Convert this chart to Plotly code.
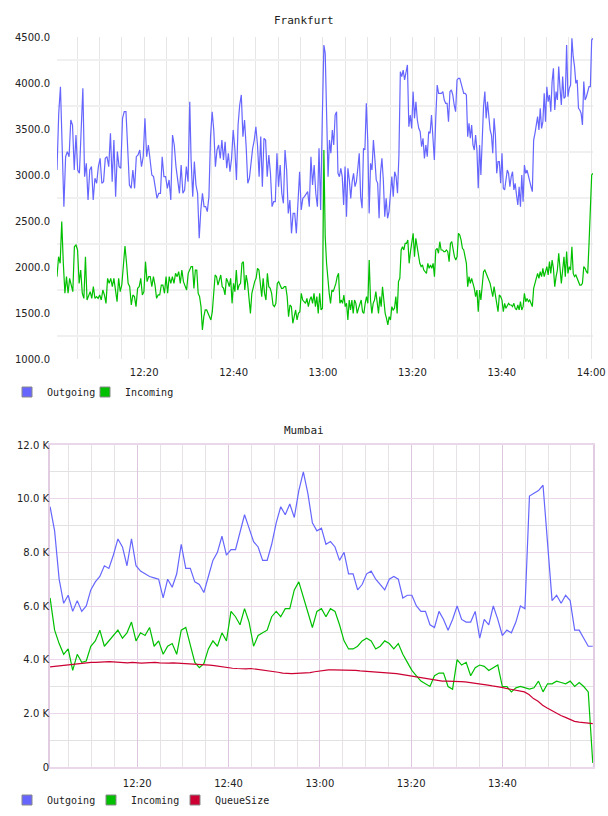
import numpy as np
import pandas as pd
import plotly.graph_objects as go

# ---------------- data ----------------
base = pd.Timestamp("2024-01-01 12:00:00")

# Frankfurt: four half-hour segments (minutes after 12:00)
fra_seg_start = [0.5, 30.5, 60.5, 90.6]
fra_seg_end = [30.2, 60.2, 90.3, 120.4]

fra_out_1 = [3054,3670,3960,3308,2656,3199,3254,3199,3598,3543,3054,3435,3054,3018,3525,3942,2982,3127,2728,3054,3091,2728,2964,2910,3091,3181,2910,2928,3181,3199,3091,3453,2928,3380,2765,3254,3091,3073,3616,3688,3688,3344,2891,2855,3054,2855,3199,3217,3272,3091,3199,3616,3199,3326,3181,3000,2982,2873,2746,2801,2801,3199,2982,2982,2855,2946,2728,3435,3326,3091,2964,2801,3109,2801,2837,3091,2928,3797]
fra_out_2 = [3163,2765,3145,2891,2801,2313,2620,2801,2656,2656,2602,2765,3417,3688,3489,3091,3272,3326,3181,3380,3163,3362,3073,3236,3036,3181,3489,3290,2946,3543,3761,3870,3417,3598,3308,2910,2964,3163,3290,3380,3525,3326,2982,3417,2873,3399,3380,2982,3217,3018,2656,2710,2710,3236,2873,3109,2801,2692,3272,3054,2583,2728,2366,2583,2583,2366,2692,3036,2620,2746,2765,2801,2819,2656,3199,2891,3109,2801,2656,3290,2620,3598,4413]
fra_out_3 = [4322,3779,2982,3380,3236,3489,3326,3652,3688,3018,2982,3073,2982,2674,3091,2547,3073,2946,2746,2928,3018,2873,2928,3073,3236,2765,2638,3290,3272,3779,3380,2583,3127,3054,3380,3181,2946,2910,2529,3018,3181,2946,2547,2746,2529,2602,2855,2982,2765,3036,2982,2801,3217,4123,4069,4141,4033,4123,4196,3525,3652,3507,3906,3616,3797,3598,3507,3471,3308,3399,3181,3326,3199,3471,3453,3652,3453,3163,3616,3978,3888,3888,3888,3906,3815,3779,3779,3580,3906,3924,3870,3761,3688,4033,4051]
fra_out_4 = [4051,3996,3942,3888,3888,3870,3417,3562,3399,3543,3326,3272,3435,3272,2855,3326,3000,3507,3743,3906,3616,3797,3670,3489,3435,3236,3616,3435,3018,3145,3145,2910,3236,2855,2837,2964,3054,3018,2873,2982,3036,2837,2910,2783,2674,2873,2656,3000,2710,3109,3018,3054,2982,2928,2873,2819,3380,3453,3525,3634,3489,3725,3507,3580,3888,3580,3960,3797,3870,3688,4015,4159,3707,3906,3815,4178,3942,3761,4069,3833,3851,4413,3851,3942,3978,4486,4286,4178,3996,4033,3725,3707,3670,3543,4015,3815,3851,3924,3960,3960,4467,4486]

fra_in_1 = [1895,2112,2040,2493,2040,1714,1895,1714,1877,1786,1732,2221,2239,2185,1822,1967,1714,1659,2112,1641,1678,1732,1659,1786,1659,1678,1659,1696,1641,1750,1696,1605,1877,1822,1877,1786,1877,1714,1623,1877,1732,1804,2040,2228,2040,1822,1786,1587,1696,1678,1569,1768,1786,1877,1696,1732,2058,1841,1895,1895,1786,1895,1804,1659,1696,1696,1804,1804,1714,1895,1714,1895,1822,1895,1822,1931,1895,1949,1822,1967,1841,1786,1750,1931,1985]
fra_in_2 = [2004,2004,1768,1967,1967,1714,1678,1569,1315,1460,1533,1533,1496,1460,1424,1514,1714,1913,1895,1804,1859,1913,1786,1768,1696,1877,1841,1786,1877,1605,1822,1732,1967,1750,1804,1822,2040,2058,1750,1913,1822,1659,1496,1714,1786,1841,1877,1985,1967,1822,1678,1877,1714,1641,1931,1786,1768,1714,1587,1569,1605,1822,1841,1804,1768,1768,1786,1786,1678,1460,1587,1569,1388,1460,1533,1424,1496,1514,1714,1641,1623,1605,1659,1569,1641,1678,1605,1714,1569,1678,1496,1714,1533,1551,3272]
fra_in_3 = [2330,2040,1822,1714,1605,1750,1732,1768,1822,1895,1931,1605,1641,1605,1696,1569,1605,1424,1641,1533,1641,1496,1641,1605,1496,1551,1605,1641,1514,1496,1605,1678,1605,2076,1641,1496,1605,1641,1732,1605,1496,1678,1569,1786,1605,1496,1442,1370,1460,1424,1569,1533,1551,1678,1496,1841,1877,2185,2221,2185,2257,2257,2293,2040,2167,2257,2366,2112,2312,2221,2112,2040,2004,2022,1967,1949,1931,2040,1985,2022,1985,2040,1895,2185,2203,2149,2275,2185,2185,2167,2167,2185,2167,2058,2257,2275,2185,2112,2076,2112,2366]
fra_in_4 = [2348,2293,2203,2185,2112,2040,1786,1895,1822,1877,1822,1768,1678,1750,1514,1750,1641,1822,1949,1967,1931,1895,1877,1822,1750,1678,1786,1714,1605,1514,1696,1678,1641,1514,1605,1551,1587,1605,1587,1587,1569,1605,1551,1533,1587,1533,1623,1533,1569,1714,1623,1659,1623,1641,1605,1569,1768,1822,1877,1931,1877,1949,1895,1985,1895,1967,2004,1913,2058,1931,2076,1985,1786,1895,1967,2149,2004,1822,1967,2112,1895,2167,1931,2004,1967,2221,1931,1895,1913,1877,1859,1804,1804,1822,2004,1985,1949,1931,2257,2656,3000,3018]

# Mumbai (minutes after 12:00 span)
mum_start, mum_end = 0.9, 119.8
mum_out = [9700,8800,7000,6100,6400,5800,6200,5800,6000,6600,
           6900,7100,7500,7400,7900,8500,8200,7500,8500,7500,
           7300,7200,7100,7050,7000,6300,7000,6700,7200,8300,
           7400,7400,6900,6800,6500,7100,7700,8000,8600,7900,
           8100,8100,8700,9400,8900,8400,8200,7700,7700,8300,
           9100,9700,9400,9800,9300,10300,11000,10200,9100,8800,
           8900,8300,8400,8200,7700,8000,7200,7200,6600,6800,
           7200,7300,7000,6800,6600,7000,7100,7000,6300,6400,
           6400,6000,5800,5800,5300,5200,5800,5500,5100,5500,
           6000,5500,5400,5400,5800,4800,5500,5300,6000,5500,
           4900,5100,5000,5400,6000,5900,10100,10200,10300,10500,
           8400,6200,6400,6100,6400,6200,5100,5100,4800,4500,4500]
mum_in = [6300,5100,4600,4200,4400,3600,4200,3900,3950,4500,
          4700,5100,4500,4700,4900,5100,4800,5000,5400,4700,
          5000,4900,5200,4500,4700,4200,4500,4600,4200,5100,
          5200,4500,3900,3700,3850,4400,4700,4500,5000,4700,
          5800,5600,5300,5900,5400,4500,4900,5000,5100,5600,
          5800,5600,5900,5900,6600,6900,6300,5800,5200,5800,
          5900,5600,5900,5800,5300,4700,4400,4400,4500,4700,
          4800,4700,4400,4500,4700,4600,4400,4600,4200,3900,
          3600,3400,3200,3100,3000,3400,3500,3500,3000,2900,
          4000,3800,3900,3400,3700,3800,3750,3600,3700,3800,
          3000,3000,2800,2950,3000,2950,2900,2950,3200,2800,
          3100,3100,3200,3150,3100,3200,3000,3150,3000,2800,150]
mum_queue = [3730,3750,3780,3800,3820,3830,3850,3870,3880,3900,3900,3920,
             3920,3930,3920,3900,3900,3880,3900,3880,3870,3880,3900,3900,3880,3870,3870,3880,3870,3860,3860,3850,3850,3830,3820,3800,
             3780,3750,3720,3700,3680,3670,3660,3660,3670,3650,3630,
             3600,3580,3550,3530,3500,3480,3480,3490,3500,3500,3520,
             3550,3580,3600,3620,
             3620,3620,3610,3600,3600,3600,3580,3570,3560,3550,3530,3520,3520,3500,3480,
             3450,3420,3400,3370,3330,3300,3280,3250,3220,3200,3200,3200,3190,3180,3170,
             3150,3120,3100,3080,3050,3020,3000,2970,2930,2900,2870,2830,2800,
             2700,2550,2450,2300,2200,2100,2000,1920,1850,1780,1700,1670,1660,1650,1620]

fra_ticks = [1000, 1500, 2000, 2500, 3000, 3500, 4000, 4500]
mum_tickvals = [0, 2000, 4000, 6000, 8000, 10000, 12000]
mum_ticktext = ["0", "2.0 K", "4.0 K", "6.0 K", "8.0 K", "10.0 K", "12.0 K"]

# ---------------- helpers ----------------
def minutes(m):
    return base + pd.to_timedelta(np.asarray(m, dtype=float), unit="m")

def seg_series(segs):
    xs, ys = [], []
    for s, e, vals in zip(fra_seg_start, fra_seg_end, segs):
        xs.extend(minutes(np.linspace(s, e, len(vals))))
        ys.extend(vals)
    return xs, ys

fra_out_x, fra_out_y = seg_series([fra_out_1, fra_out_2, fra_out_3, fra_out_4])
fra_in_x, fra_in_y = seg_series([fra_in_1, fra_in_2, fra_in_3, fra_in_4])

C_OUT = "#6666ff"
C_IN = "#00c000"
C_Q = "#cc0033"
MONO = "DejaVu Sans Mono"
SANS = "DejaVu Sans"

fig = go.Figure()
fig.add_trace(go.Scatter(x=fra_out_x, y=fra_out_y, mode="lines", line=dict(color=C_OUT, width=1.2),
                         showlegend=False, xaxis="x", yaxis="y"))
fig.add_trace(go.Scatter(x=fra_in_x, y=fra_in_y, mode="lines", line=dict(color=C_IN, width=1.2),
                         showlegend=False, xaxis="x", yaxis="y"))

mo_x = minutes(np.linspace(mum_start, mum_end, len(mum_out)))
mi_x = minutes(np.linspace(mum_start, mum_end, len(mum_in)))
mq_x = minutes(np.linspace(mum_start, mum_end, len(mum_queue)))
fig.add_trace(go.Scatter(x=mo_x, y=mum_out, mode="lines", line=dict(color=C_OUT, width=1.2),
                         showlegend=False, xaxis="x2", yaxis="y2"))
fig.add_trace(go.Scatter(x=mi_x, y=mum_in, mode="lines", line=dict(color=C_IN, width=1.2),
                         showlegend=False, xaxis="x2", yaxis="y2"))
fig.add_trace(go.Scatter(x=mq_x, y=mum_queue, mode="lines", line=dict(color=C_Q, width=1.2),
                         showlegend=False, xaxis="x2", yaxis="y2"))

W, H = 608, 816
tick_font = dict(family=SANS, size=10, color="#222222")
leg_font = dict(family=MONO, size=10, color="#222222")

# legend swatches: one legend per entry so each sits where the reference puts it
legend_entries = [
    # (name, color, legend id, axes, swatch centre x px, centre y px)
    ("Outgoing", C_OUT, "legend", ("x", "y"), 28, 392),
    ("Incoming", C_IN, "legend2", ("x", "y"), 106, 392),
    ("Outgoing", C_OUT, "legend3", ("x2", "y2"), 28, 800),
    ("Incoming", C_IN, "legend4", ("x2", "y2"), 112, 800),
    ("QueueSize", C_Q, "legend5", ("x2", "y2"), 196, 800),
]
legend_layout = {}
for name, color, lid, (ax, ay), cx, cy in legend_entries:
    fig.add_trace(go.Scatter(x=[None], y=[None], mode="markers", name=name,
                             marker=dict(symbol="square", size=10, color=color,
                                         line=dict(color="#888888", width=1)),
                             legend=lid, xaxis=ax, yaxis=ay))
    legend_layout[lid] = dict(x=(cx - 21) / W, y=1 - cy / H, xanchor="left", yanchor="middle",
                              orientation="h", font=leg_font, bgcolor="rgba(0,0,0,0)",
                              itemclick=False, itemdoubleclick=False)

fig.update_layout(
    width=W, height=H, margin=dict(l=0, r=0, t=0, b=0, autoexpand=False),
    paper_bgcolor="white", plot_bgcolor="white",
    xaxis=dict(domain=[57 / W, 593 / W], anchor="y", type="date", automargin=False,
               range=[minutes(0.5), minutes(120.4)],
               tickformat="%H:%M", tick0=base, dtick=20 * 60000,
               showgrid=True, gridcolor="#e6e6e6", gridwidth=1,
               minor=dict(tick0=base, dtick=5 * 60000, showgrid=True, gridcolor="#e6e6e6", gridwidth=1),
               ticks="", showline=False, zeroline=False, tickfont=tick_font, ticklabelstandoff=6),
    yaxis=dict(domain=[1 - 359 / H, 1 - 37 / H], anchor="x", range=[1000, 4500], automargin=False,
               tickmode="array", tickvals=fra_ticks, tickformat=".1f",
               showgrid=False,
               minor=dict(tickmode="linear", tick0=1250, dtick=500, showgrid=True, gridcolor="#f0f0f0", gridwidth=2),
               ticks="", showline=False, zeroline=False, tickfont=tick_font, ticklabelstandoff=6),
    xaxis2=dict(domain=[50 / W, 593 / W], anchor="y2", type="date", automargin=False,
                range=[minutes(0.88), minutes(119.85)],
                tickformat="%H:%M", tick0=base, dtick=20 * 60000,
                showgrid=True, gridcolor="#dfc6df", gridwidth=1,
                minor=dict(tick0=base, dtick=5 * 60000, showgrid=True, gridcolor="#e6e2e6", gridwidth=1),
                ticks="", showline=True, mirror=True, linecolor="#ead8ea", linewidth=2,
                zeroline=False, tickfont=tick_font, ticklabelstandoff=6),
    yaxis2=dict(domain=[1 - 767 / H, 1 - 445 / H], anchor="x2", range=[0, 12000], automargin=False,
                tickmode="array", tickvals=mum_tickvals, ticktext=mum_ticktext,
                showgrid=True, gridcolor="#ead8ea", gridwidth=1,
                minor=dict(tickmode="linear", tick0=0, dtick=1000, showgrid=True, gridcolor="#e2e2e2", gridwidth=1),
                ticks="", showline=True, mirror=True, linecolor="#e2cce2", linewidth=2,
                zeroline=False, tickfont=tick_font, ticklabelstandoff=-3),
    annotations=[
        dict(text="Frankfurt", x=304 / W, y=1 - 20 / H, xref="paper", yref="paper",
             xanchor="center", yanchor="middle",
             showarrow=False, font=dict(family=MONO, size=11, color="#222222")),
        dict(text="Mumbai", x=304 / W, y=1 - 430 / H, xref="paper", yref="paper",
             xanchor="center", yanchor="middle",
             showarrow=False, font=dict(family=MONO, size=11, color="#222222")),
    ],
    **legend_layout,
)

fig.write_html("out.html")
